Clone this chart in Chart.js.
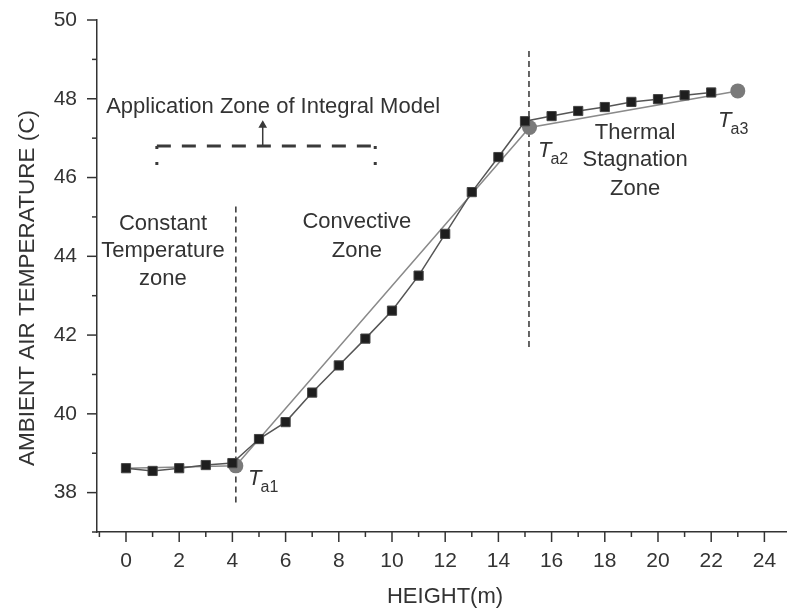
<!DOCTYPE html>
<html><head><meta charset="utf-8">
<script src="https://cdn.jsdelivr.net/npm/chart.js@4/dist/chart.umd.min.js"></script>
<style>html,body{margin:0;padding:0;background:#fff}#wrap{width:787px;height:608px;position:relative}</style>
</head><body><div id="wrap"><canvas id="c" width="787" height="608"></canvas></div>
<script>
// ---- data ----
const heights = [0,1,2,3,4,5,6,7,8,9,10,11,12,13,14,15,16,17,18,19,20,21,22];
const measuredTemps = [38.62,38.55,38.62,38.70,38.75,39.36,39.79,40.54,41.23,41.91,42.62,43.51,44.57,45.63,46.52,47.43,47.56,47.69,47.79,47.92,47.99,48.09,48.16];
const modelHeights = [0,4.13,15.17,23];
const modelTemps = [38.62,38.68,47.27,48.2];
const modelMarkers = ['', 'Ta1', 'Ta2', 'Ta3'];
const zoneBoundaryX = [4.13, 15.15];
const zoneBoundaryY = [[37.75,45.33],[41.7,49.3]];
const appZoneX = [1.16, 9.37];
const appZoneY = [46.0, 46.8];
const appArrowX = 5.14;
const appArrowTop = 47.33;
const xTickLabels = ['0','2','4','6','8','10','12','14','16','18','20','22','24'];
const yTickLabels = ['38','40','42','44','46','48','50'];

const FONT = 'Liberation Sans, Arial, Helvetica, sans-serif';
const INK = '#333';

const textNotes = [
  {text:'Application Zone of Integral Model', x:5.53, y:47.64},
  {text:'Constant', x:1.39, y:44.68},
  {text:'Temperature', x:1.39, y:43.99},
  {text:'zone', x:1.39, y:43.28},
  {text:'Convective', x:8.68, y:44.71},
  {text:'Zone', x:8.68, y:43.99},
  {text:'Thermal', x:19.14, y:46.98},
  {text:'Stagnation', x:19.14, y:46.30},
  {text:'Zone', x:19.14, y:45.56}
];
const tNotes = [
  {sub:'a1', x:4.59, y:38.19},
  {sub:'a2', x:15.49, y:46.52},
  {sub:'a3', x:22.26, y:47.28}
];

const pts = (xs, ys) => xs.map((x,i)=>({x, y: ys[i]}));

const ticksPlugin = {
  id:'customTicks',
  afterDraw(chart){
    const ctx = chart.ctx;
    const xs = chart.scales.x, ys = chart.scales.y;
    const area = chart.chartArea;
    ctx.save();
    ctx.strokeStyle = INK; ctx.lineWidth = 1.5;
    xs.ticks.forEach(t=>{
      const v = Math.round(t.value);
      const p = xs.getPixelForValue(t.value);
      const len = (v % 2 === 0) ? 10 : 5;
      ctx.beginPath(); ctx.moveTo(p, area.bottom); ctx.lineTo(p, area.bottom + len); ctx.stroke();
    });
    ys.ticks.forEach(t=>{
      const v = Math.round(t.value);
      const p = ys.getPixelForValue(t.value);
      const len = (v % 2 === 0) ? 10 : 5;
      ctx.beginPath(); ctx.moveTo(area.left, p); ctx.lineTo(area.left - len, p); ctx.stroke();
    });
    // texts
    ctx.fillStyle = INK;
    ctx.font = '22px ' + FONT;
    ctx.textAlign = 'center'; ctx.textBaseline = 'alphabetic';
    textNotes.forEach(n=>{
      ctx.fillText(n.text, xs.getPixelForValue(n.x), ys.getPixelForValue(n.y));
    });
    tNotes.forEach(n=>{
      const px = xs.getPixelForValue(n.x), py = ys.getPixelForValue(n.y);
      ctx.textAlign = 'left';
      ctx.font = 'italic 22px ' + FONT;
      ctx.fillText('T', px, py);
      const w = ctx.measureText('T').width;
      ctx.font = '16px ' + FONT;
      ctx.fillText(n.sub, px + w - 1, py + 7);
    });
    // axis titles
    ctx.font = '22px ' + FONT;
    ctx.textAlign = 'center';
    ctx.fillText('HEIGHT(m)', 445, 603);
    ctx.save();
    ctx.translate(33.5, 288);
    ctx.rotate(-Math.PI/2);
    ctx.font = '22.5px ' + FONT;
    ctx.fillText('AMBIENT AIR TEMPERATURE (C)', 0, 0);
    ctx.restore();
    ctx.restore();
  }
};

const lineDs = (data, extra) => Object.assign({
  data, showLine:true, pointRadius:0, borderColor:INK, borderWidth:1.5, fill:false, tension:0
}, extra);

new Chart(document.getElementById('c'), {
  type:'scatter',
  data:{
    datasets:[
      lineDs(pts(heights, measuredTemps), {
        label:'Measured', borderColor:'#555', borderWidth:1.5,
        pointStyle:'rect', pointRadius:6.5, pointBackgroundColor:'#1e1e1e', pointBorderColor:'#444', pointBorderWidth:1
      }),
      lineDs(pts(modelHeights, modelTemps), {
        label:'Model', borderColor:'#8a8a8a', borderWidth:1.5,
        pointStyle:'circle', pointRadius: modelMarkers.map(m=> m ? 7.5 : 0),
        pointBackgroundColor:'#7a7a7a', pointBorderColor:'#7a7a7a', pointBorderWidth:0
      }),
      lineDs(pts([zoneBoundaryX[0],zoneBoundaryX[0]], zoneBoundaryY[0]), {label:'b1', borderDash:[6,4], borderWidth:1.5}),
      lineDs(pts([zoneBoundaryX[1],zoneBoundaryX[1]], zoneBoundaryY[1]), {label:'b2', borderDash:[6,4], borderWidth:1.5}),
      lineDs(pts(appZoneX, [appZoneY[1], appZoneY[1]]), {label:'app', borderDash:[14,11], borderWidth:3, borderColor:'#3a3a3a'}),
      lineDs(pts([appZoneX[0],appZoneX[0]], [appZoneY[1], appZoneY[0]]), {label:'appL', borderDash:[3,13], borderWidth:3, borderColor:'#3a3a3a'}),
      lineDs(pts([appZoneX[1],appZoneX[1]], [appZoneY[1], appZoneY[0]]), {label:'appR', borderDash:[3,13], borderWidth:3, borderColor:'#3a3a3a'}),
      lineDs(pts([appArrowX, appArrowX], [appZoneY[1], appArrowTop]), {
        label:'arrow', borderWidth:1.5, borderColor:'#3a3a3a',
        pointStyle:'triangle', pointRadius:[0,3.5], pointBackgroundColor:'#3a3a3a', pointBorderColor:'#3a3a3a'
      })
    ]
  },
  options:{
    responsive:false, animation:false,
    layout:{autoPadding:false, padding:{top:20, right:0, left:0, bottom:0}},
    plugins:{legend:{display:false}, tooltip:{enabled:false}},
    scales:{
      x:{
        type:'linear', min:-1.09, max:24.85,
        afterFit(s){ s.height = 76; s.paddingLeft = 0; s.paddingRight = 0; },
        grid:{display:true, drawOnChartArea:false, drawTicks:true, tickLength:10, tickColor:'rgba(0,0,0,0)'},
        border:{display:true, color:INK, width:1.5},
        ticks:{stepSize:1, includeBounds:false, autoSkip:false, maxRotation:0, padding:7,
          color:INK, font:{family:FONT, size:21},
          callback:(v)=>{ const s = String(Math.round(v)); return (Math.round(v)%2===0 && xTickLabels.includes(s)) ? s : ''; }}
      },
      y:{
        type:'linear', min:37, max:50,
        afterFit(s){ s.width = 97; s.paddingTop = 0; s.paddingBottom = 0; },
        grid:{display:true, drawOnChartArea:false, drawTicks:true, tickLength:10, tickColor:'rgba(0,0,0,0)'},
        border:{display:true, color:INK, width:1.5},
        ticks:{stepSize:1, includeBounds:false, autoSkip:false, padding:10,
          color:INK, font:{family:FONT, size:21},
          callback:(v)=>{ const s = String(Math.round(v)); return yTickLabels.includes(s) ? s : ''; }}
      }
    }
  },
  plugins:[ticksPlugin]
});
</script>
</body></html>
